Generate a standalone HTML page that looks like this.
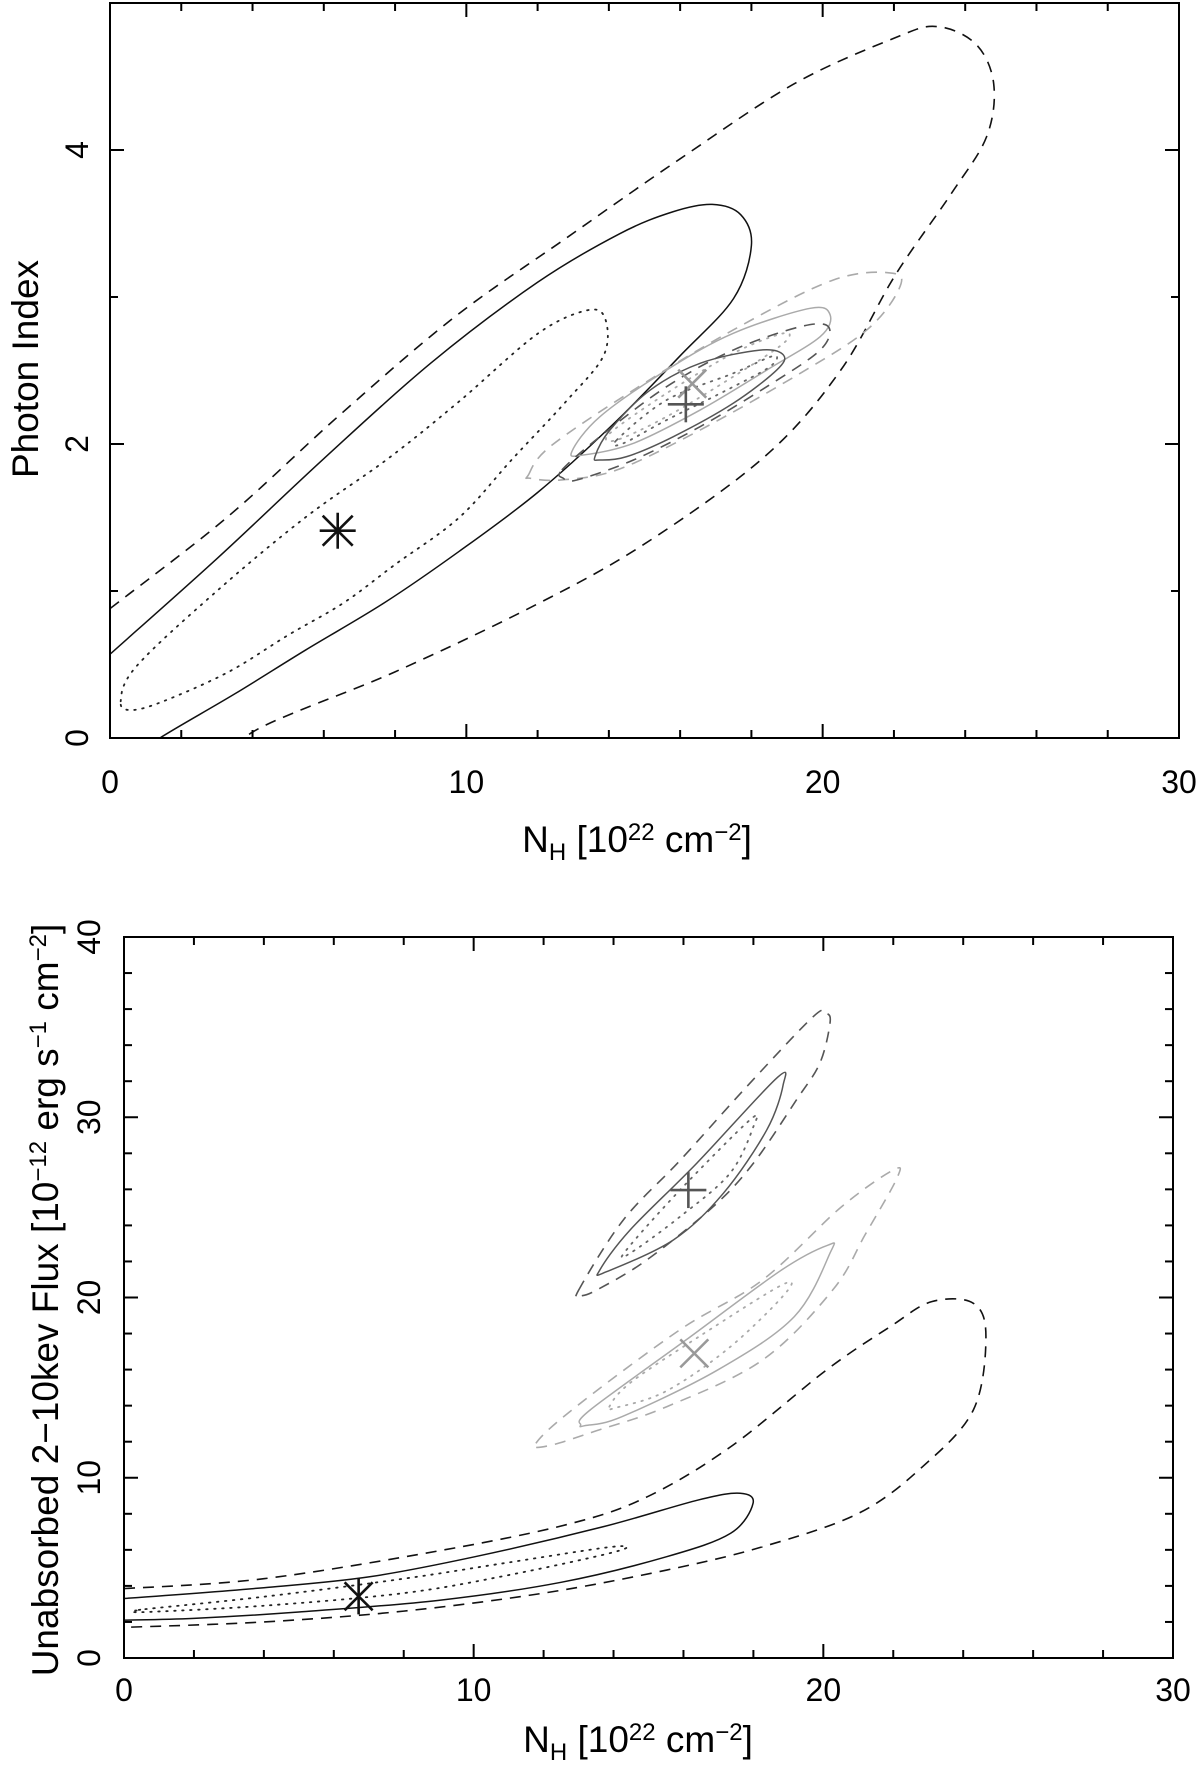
<!DOCTYPE html>
<html><head><meta charset="utf-8">
<style>
html,body{margin:0;padding:0;background:#fff;}
svg{display:block;font-family:"Liberation Sans",Arial,sans-serif;}
</style></head>
<body>
<svg id="fig" width="1200" height="1779" viewBox="0 0 1200 1779" xmlns="http://www.w3.org/2000/svg">
<defs>
<clipPath id="clipTop"><rect x="110" y="3" width="1069" height="735"/></clipPath>
<clipPath id="clipBot"><rect x="124" y="937" width="1049" height="721"/></clipPath>
</defs>
<g id="top"></g>
<g id="bot"></g>
<text x="637" y="852" font-size="37" text-anchor="middle">N<tspan font-size="24" dy="8">H</tspan><tspan dy="-8"> [10</tspan><tspan font-size="24" dy="-12">22</tspan><tspan dy="12"> cm</tspan><tspan font-size="24" dy="-12">−2</tspan><tspan dy="12">]</tspan></text>
<text x="638" y="1752" font-size="37" text-anchor="middle">N<tspan font-size="24" dy="8">H</tspan><tspan dy="-8"> [10</tspan><tspan font-size="24" dy="-12">22</tspan><tspan dy="12"> cm</tspan><tspan font-size="24" dy="-12">−2</tspan><tspan dy="12">]</tspan></text>
<text transform="translate(38,369) rotate(-90)" font-size="37" text-anchor="middle">Photon Index</text>
<text transform="translate(58,1300) rotate(-90)" font-size="37" text-anchor="middle">Unabsorbed 2−10kev Flux [10<tspan font-size="24" dy="-12">−12</tspan><tspan dy="12"> erg s</tspan><tspan font-size="24" dy="-12">−1</tspan><tspan dy="12"> cm</tspan><tspan font-size="24" dy="-12">−2</tspan><tspan dy="12">]</tspan></text>
</svg>
<script>
// ---------- TOP PANEL DATA (NH, Photon Index) ----------
const topXTicks = [0, 10, 20, 30];
const topYTicks = [0, 2, 4];
const topBlackDashed = [[3.6,-0.2],[4,0.04],[8,0.45],[11.9,0.9],[15,1.32],[18.4,1.92],[20.5,2.5],[22.04,3.15],[23.6,3.7],[24.6,4.09],[24.8,4.45],[24.3,4.72],[23.2,4.84],[22,4.76],[19.2,4.45],[16,3.94],[12.8,3.4],[9.65,2.86],[6.46,2.2],[3.28,1.5],[0,0.88],[-0.5,0.78]];
const topBlackSolid = [[0.8,-0.12],[1.4,0],[3.5,0.3],[5.5,0.6],[7.7,0.92],[9.8,1.27],[12,1.67],[14.1,2.13],[16,2.6],[17.5,2.99],[18.0,3.35],[17.7,3.56],[16.9,3.63],[15.8,3.58],[14.3,3.43],[12,3.1],[9,2.55],[6,1.9],[3,1.22],[0,0.57],[-0.5,0.46]];
const topBlackDotted = [[0.3,0.25],[0.75,0.49],[3,1.0],[5.48,1.5],[7.8,1.9],[9.8,2.29],[12,2.75],[13.4,2.91],[13.9,2.85],[13.85,2.6],[12.8,2.29],[11.3,1.9],[9.8,1.5],[8,1.18],[6.56,0.92],[5,0.7],[3.33,0.45],[1.5,0.25],[0.6,0.19]];
const topDarkSolid = [[13.61,1.914],[14.03,2.095],[15.16,2.367],[16.56,2.549],[18.24,2.639],[18.90,2.605],[18.71,2.503],[17.49,2.277],[15.81,2.05],[14.50,1.914],[13.75,1.891]];
const topDarkDotted = [[14.22,2.027],[15.62,2.299],[17.49,2.481],[18.62,2.599],[18.52,2.526],[17.31,2.367],[15.62,2.163],[14.41,2.005]];
const topDarkDashed = [[12.68,1.823],[13.75,2.05],[15.62,2.39],[17.49,2.639],[19.37,2.798],[20.16,2.798],[19.93,2.639],[18.43,2.39],[16.56,2.118],[14.69,1.891],[13.10,1.755],[12.72,1.767]];
const topLightSolid = [[12.96,1.948],[13.75,2.186],[15.62,2.503],[17.49,2.753],[19.65,2.923],[20.21,2.878],[19.93,2.73],[18.43,2.503],[16.56,2.231],[14.69,2.005],[13.28,1.925]];
const topLightDotted = [[14.03,2.073],[15.62,2.345],[17.49,2.617],[18.90,2.753],[18.90,2.685],[17.49,2.458],[15.62,2.186],[14.22,2.027]];
const topLightDashed = [[11.74,1.789],[12.35,1.982],[14.69,2.367],[17.49,2.776],[20.30,3.116],[21.98,3.161],[22.13,3.048],[21.24,2.776],[19.37,2.481],[16.56,2.095],[14.22,1.823],[12.63,1.755],[11.79,1.767]];
const topAsterisk = [6.39, 1.41];
const topPlus = [16.16, 2.27];
const topCross = [16.34, 2.41];

// ---------- BOTTOM PANEL DATA (NH, Flux) ----------
const botXTicks = [0, 10, 20, 30];
const botYTicks = [0, 10, 20, 30, 40];
const botBlackDashed = [[-0.5,3.85],[0,3.85],[4,4.4],[9.13,5.99],[12.78,7.46],[14.97,8.95],[17.35,11.72],[20.09,15.98],[21.91,18.38],[23.1,19.77],[24.29,19.68],[24.65,17.83],[24.29,13.76],[22.83,10.6],[21.0,8.02],[18.26,6.17],[15.52,4.88],[12,3.6],[8,2.6],[4,2.0],[0,1.7],[-0.5,1.68]];
const botBlackSolid = [[-0.5,3.28],[0,3.3],[4,3.9],[7,4.5],[10.04,5.62],[13.7,7.28],[16.43,8.77],[17.62,9.14],[17.99,8.58],[17.35,6.92],[15.52,5.62],[12.5,4.2],[9,3.2],[5,2.55],[2,2.2],[0,2.1],[-0.5,2.08]];
const botBlackDotted = [[0.61,2.71],[4,3.4],[8,4.4],[11,5.3],[13.97,6.17],[14.06,5.9],[11,4.6],[8,3.6],[4,2.9],[0.61,2.55],[0.4,2.63]];
const botDarkDashed = [[13.0,20.4],[14.28,24.3],[15.90,27.6],[17.81,31.7],[19.71,35.58],[20.09,35.76],[20.19,35.2],[19.9,33.0],[19.23,30.96],[18.0,27.45],[16.85,25.04],[14.95,22.08],[13.61,20.51],[13.1,20.1]];
const botDarkSolid = [[13.61,21.53],[14.47,23.74],[16.38,27.45],[18.66,32.16],[18.85,31.79],[18.38,29.29],[17.14,25.78],[15.71,23.19],[13.80,21.43]];
const botDarkDotted = [[14.37,22.64],[15.90,25.96],[17.9,29.85],[18.0,29.48],[17.33,26.89],[15.90,24.48],[14.47,22.45]];
const botLightDashed = [[11.78,11.91],[12.9,13.9],[15.89,18.2],[18.26,20.97],[20.5,25.0],[22.0,27.07],[22.1,26.6],[21.2,23.5],[20.27,20.42],[18.26,16.53],[15.52,13.94],[13.5,12.6],[12.2,11.8]];
const botLightSolid = [[13.06,12.93],[13.33,13.76],[16.07,17.64],[18.81,21.53],[20.14,22.91],[20.2,22.5],[19.17,18.94],[16.98,15.98],[14.24,13.39],[13.2,12.9]];
const botLightDotted = [[13.88,13.94],[14.5,15.3],[16.5,17.9],[18.81,20.69],[18.9,20.2],[17.3,17.2],[15.5,14.8],[14.1,13.9]];
const botStar = [6.71, 3.42];
const botPlus = [16.14, 25.96];
const botCross = [16.31, 16.9];

const NS = "http://www.w3.org/2000/svg";
function mk(tag, attrs, parent){
  const e = document.createElementNS(NS, tag);
  for (const k in attrs) e.setAttribute(k, attrs[k]);
  parent.appendChild(e);
  return e;
}
function makeAxes(x0,x1,y0,y1,xmin,xmax,ymin,ymax){
  return {
    X: v => x0 + (v - xmin) / (xmax - xmin) * (x1 - x0),
    Y: v => y1 - (v - ymin) / (ymax - ymin) * (y1 - y0)
  };
}
function smoothPath(pts, closed){
  const n = pts.length;
  let d = "M" + pts[0][0].toFixed(2) + "," + pts[0][1].toFixed(2);
  const get = i => closed ? pts[(i + n) % n] : pts[Math.max(0, Math.min(n - 1, i))];
  const segs = closed ? n : n - 1;
  for (let i = 0; i < segs; i++){
    const p0 = get(i - 1), p1 = get(i), p2 = get(i + 1), p3 = get(i + 2);
    const c1 = [p1[0] + (p2[0] - p0[0]) / 6, p1[1] + (p2[1] - p0[1]) / 6];
    const c2 = [p2[0] - (p3[0] - p1[0]) / 6, p2[1] - (p3[1] - p1[1]) / 6];
    d += "C" + c1[0].toFixed(2) + "," + c1[1].toFixed(2) + " " + c2[0].toFixed(2) + "," + c2[1].toFixed(2) + " " + p2[0].toFixed(2) + "," + p2[1].toFixed(2);
  }
  if (closed) d += "Z";
  return d;
}
const STY = {
  blackDashed: {stroke:"#111", "stroke-width":1.6, "stroke-dasharray":"11 8"},
  blackSolid: {stroke:"#111", "stroke-width":1.5},
  blackDotted: {stroke:"#222", "stroke-width":1.8, "stroke-dasharray":"1.5 6.5", "stroke-linecap":"round"},
  darkDashed: {stroke:"#555", "stroke-width":1.6, "stroke-dasharray":"11 8"},
  darkSolid: {stroke:"#555", "stroke-width":1.5},
  darkDotted: {stroke:"#666", "stroke-width":1.8, "stroke-dasharray":"1.5 6.5", "stroke-linecap":"round"},
  lightDashed: {stroke:"#aaa", "stroke-width":1.6, "stroke-dasharray":"11 8"},
  lightSolid: {stroke:"#aaa", "stroke-width":1.5},
  lightDotted: {stroke:"#aaa", "stroke-width":1.8, "stroke-dasharray":"1.5 6.5", "stroke-linecap":"round"}
};
function drawContour(g, ax, data, style, closed, name){
  const pts = data.map(p => [ax.X(p[0]), ax.Y(p[1])]);
  const attrs = {d: smoothPath(pts, closed), fill:"none"};
  for (const k in STY[style]) attrs[k] = STY[style][k];
  const p = mk("path", attrs, g);
  
  
}
function drawMarker(g, ax, pt, kind, color, name){
  const cx = ax.X(pt[0]), cy = ax.Y(pt[1]);
  const grp = mk("g", {stroke: color, "stroke-width": 2.6, fill: "none"}, g);
  
  
  const r = 18;
  if (kind === "plus" || kind === "asterisk"){
    mk("line", {x1: cx - r, y1: cy, x2: cx + r, y2: cy}, grp);
  }
  if (kind === "plus" || kind === "asterisk" || kind === "xbar"){
    mk("line", {x1: cx, y1: cy - r, x2: cx, y2: cy + r}, grp);
  }
  if (kind === "cross" || kind === "asterisk" || kind === "xbar"){
    const q = kind === "asterisk" ? 15 : 14;
    mk("line", {x1: cx - q, y1: cy - q, x2: cx + q, y2: cy + q}, grp);
    mk("line", {x1: cx - q, y1: cy + q, x2: cx + q, y2: cy - q}, grp);
  }
}
function drawFrame(g, x0, x1, y0, y1, ax, xminor, yminor, ymajor, xticks, yticks, ytickX, xtickY, prefix){
  const fr = mk("rect", {x:x0, y:y0, width:x1-x0, height:y1-y0, fill:"none", stroke:"#000", "stroke-width":2}, g);
  
  
  const tg = mk("g", {stroke:"#000", "stroke-width":2}, g);
  
  
  for (let v = 0; v <= 30; v += xminor){
    const x = ax.X(v), L = (v % 10 === 0) ? 14 : 8;
    mk("line", {x1:x, y1:y1, x2:x, y2:y1 - L}, tg);
    mk("line", {x1:x, y1:y0, x2:x, y2:y0 + L}, tg);
  }
  for (let v = 0; v <= yticks[yticks.length-1]; v += yminor){
    const y = ax.Y(v), L = (Math.abs(v % ymajor) < 1e-9) ? 14 : 8;
    mk("line", {x1:x0, y1:y, x2:x0 + L, y2:y}, tg);
    mk("line", {x1:x1, y1:y, x2:x1 - L, y2:y}, tg);
  }
  xticks.forEach(v => {
    const t = mk("text", {x: ax.X(v), y: xtickY, "font-size": 32, "text-anchor": "middle"}, g);
    t.textContent = String(v);
    
    
  });
  yticks.forEach(v => {
    const t = mk("text", {transform: "translate(" + ytickX + "," + ax.Y(v) + ") rotate(-90)", "font-size": 32, "text-anchor": "middle"}, g);
    t.textContent = String(v);
    
    
  });
}

// top
const gT = document.getElementById("top");
const axT = makeAxes(110, 1179, 3, 738, 0, 30, 0, 5);
const cT = mk("g", {"clip-path": "url(#clipTop)"}, gT);


drawContour(cT, axT, topBlackDashed, "blackDashed", false, "top-black-99-contour");
drawContour(cT, axT, topBlackSolid, "blackSolid", false, "top-black-90-contour");
drawContour(cT, axT, topBlackDotted, "blackDotted", true, "top-black-68-contour");
drawContour(cT, axT, topLightDashed, "lightDashed", true, "top-light-99-contour");
drawContour(cT, axT, topLightSolid, "lightSolid", true, "top-light-90-contour");
drawContour(cT, axT, topLightDotted, "lightDotted", true, "top-light-68-contour");
drawContour(cT, axT, topDarkDashed, "darkDashed", true, "top-dark-99-contour");
drawContour(cT, axT, topDarkSolid, "darkSolid", true, "top-dark-90-contour");
drawContour(cT, axT, topDarkDotted, "darkDotted", true, "top-dark-68-contour");
drawMarker(gT, axT, topAsterisk, "asterisk", "#111", "top-best-fit-asterisk");
drawMarker(gT, axT, topCross, "cross", "#999", "top-best-fit-cross");
drawMarker(gT, axT, topPlus, "plus", "#555", "top-best-fit-plus");
drawFrame(gT, 110, 1179, 3, 738, axT, 2, 1, 2, topXTicks, topYTicks, 88, 793, "top");

// bottom
const gB = document.getElementById("bot");
const axB = makeAxes(124, 1173, 937, 1658, 0, 30, 0, 40);
const cB = mk("g", {"clip-path": "url(#clipBot)"}, gB);


drawContour(cB, axB, botBlackDashed, "blackDashed", false, "bottom-black-99-contour");
drawContour(cB, axB, botBlackSolid, "blackSolid", false, "bottom-black-90-contour");
drawContour(cB, axB, botBlackDotted, "blackDotted", true, "bottom-black-68-contour");
drawContour(cB, axB, botLightDashed, "lightDashed", true, "bottom-light-99-contour");
drawContour(cB, axB, botLightSolid, "lightSolid", true, "bottom-light-90-contour");
drawContour(cB, axB, botLightDotted, "lightDotted", true, "bottom-light-68-contour");
drawContour(cB, axB, botDarkDashed, "darkDashed", true, "bottom-dark-99-contour");
drawContour(cB, axB, botDarkSolid, "darkSolid", true, "bottom-dark-90-contour");
drawContour(cB, axB, botDarkDotted, "darkDotted", true, "bottom-dark-68-contour");
drawMarker(gB, axB, botStar, "xbar", "#111", "bottom-best-fit-star");
drawMarker(gB, axB, botCross, "cross", "#999", "bottom-best-fit-cross");
drawMarker(gB, axB, botPlus, "plus", "#555", "bottom-best-fit-plus");
drawFrame(gB, 124, 1173, 937, 1658, axB, 2, 2, 10, botXTicks, botYTicks, 100, 1701, "bottom");
</script>
</body></html>
